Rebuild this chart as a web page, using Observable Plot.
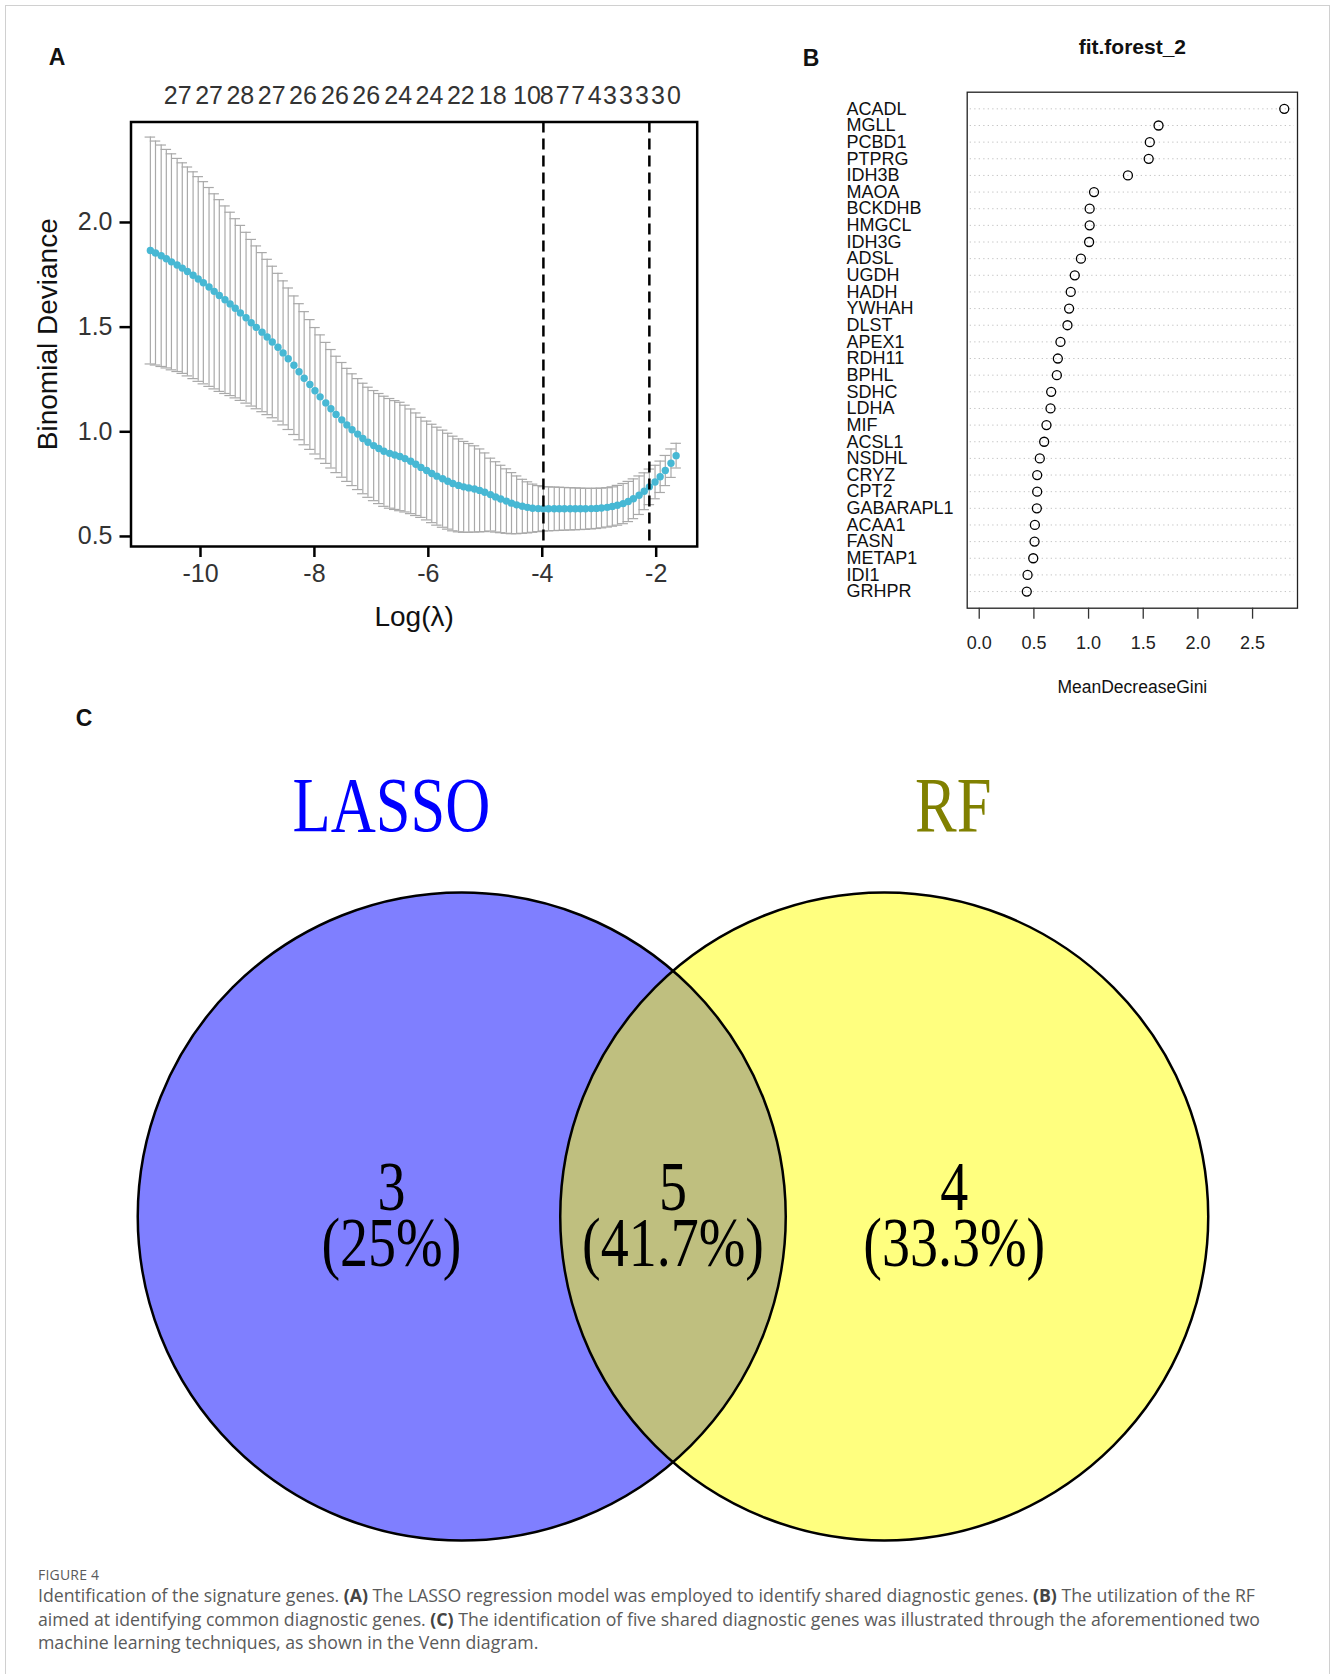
<!DOCTYPE html>
<html><head><meta charset="utf-8">
<script src="https://cdn.jsdelivr.net/npm/d3@7"></script>
<script src="https://cdn.jsdelivr.net/npm/@observablehq/plot@0.6"></script>
<style>
body{margin:0;background:#fff;}
#fig{position:relative;width:1335px;height:1674px;overflow:hidden;background:#fff;font-family:"Liberation Sans",Arial,sans-serif;}
#border{position:absolute;left:5px;top:5px;width:1323px;height:1720px;border:1px solid #d0d0d0;}
.panel{position:absolute;}
.plab{position:absolute;font-weight:bold;font-size:23px;color:#111;transform:translate(-50%,-50%);line-height:1;}
#caption{position:absolute;left:38px;top:1566px;font-family:"Open Sans",sans-serif;color:#5a5a5a;white-space:nowrap;}
#caption b{color:#444;}
</style></head><body>
<div id="fig">
  <div id="border"></div>
  <div id="pA" class="panel" style="left:0;top:0"></div>
  <div id="pB" class="panel" style="left:800px;top:0"></div>
  <div id="pC" class="panel" style="left:0;top:690px"></div>
  <div class="plab" style="left:57px;top:57px">A</div>
  <div class="plab" style="left:811px;top:58px">B</div>
  <div class="plab" style="left:84px;top:718px">C</div>
  <div id="caption">
    <div style="font-size:14px;line-height:18px;letter-spacing:0.2px">FIGURE 4</div>
    <div style="font-size:17.7px;line-height:23.5px">Identification of the signature genes. <b>(A)</b> The LASSO regression model was employed to identify shared diagnostic genes. <b>(B)</b> The utilization of the RF<br>aimed at identifying common diagnostic genes. <b>(C)</b> The identification of five shared diagnostic genes was illustrated through the aforementioned two<br>machine learning techniques, as shown in the Venn diagram.</div>
  </div>
</div>
<script>
// ---------- Panel A data (cv.glmnet) ----------
const logLambda = [
-10.88,-10.79,-10.69,-10.60,-10.51,-10.41,-10.32,-10.23,-10.13,-10.04,
-9.95,-9.85,-9.76,-9.67,-9.57,-9.48,-9.39,-9.30,-9.20,-9.11,
-9.02,-8.92,-8.83,-8.74,-8.64,-8.55,-8.46,-8.36,-8.27,-8.18,
-8.08,-7.99,-7.90,-7.80,-7.71,-7.62,-7.52,-7.43,-7.34,-7.24,
-7.15,-7.06,-6.96,-6.87,-6.78,-6.68,-6.59,-6.50,-6.41,-6.31,
-6.22,-6.13,-6.03,-5.94,-5.85,-5.75,-5.66,-5.57,-5.47,-5.38,
-5.29,-5.19,-5.10,-5.01,-4.91,-4.82,-4.73,-4.63,-4.54,-4.45,
-4.35,-4.26,-4.17,-4.07,-3.98,-3.89,-3.79,-3.70,-3.61,-3.51,
-3.42,-3.33,-3.24,-3.14,-3.05,-2.96,-2.86,-2.77,-2.68,-2.58,
-2.49,-2.40,-2.30,-2.21,-2.12,-2.02,-1.93,-1.84,-1.74,-1.65];
const cvm = [
1.866,1.854,1.841,1.827,1.812,1.797,1.782,1.766,1.748,1.730,
1.712,1.692,1.671,1.651,1.631,1.611,1.590,1.568,1.545,1.521,
1.499,1.476,1.453,1.429,1.404,1.377,1.349,1.318,1.287,1.256,
1.226,1.196,1.167,1.138,1.110,1.083,1.057,1.033,1.010,0.989,
0.968,0.950,0.934,0.920,0.907,0.897,0.889,0.882,0.872,0.859,
0.845,0.830,0.815,0.801,0.788,0.776,0.764,0.753,0.744,0.737,
0.732,0.727,0.720,0.711,0.700,0.689,0.679,0.669,0.659,0.651,
0.644,0.639,0.635,0.633,0.632,0.632,0.632,0.632,0.632,0.632,
0.632,0.632,0.632,0.633,0.634,0.636,0.639,0.643,0.649,0.657,
0.667,0.680,0.697,0.716,0.737,0.760,0.785,0.815,0.850,0.886];
const cvsd = [
0.542,0.535,0.529,0.522,0.516,0.509,0.503,0.499,0.494,0.489,
0.483,0.475,0.466,0.458,0.448,0.438,0.428,0.418,0.408,0.398,
0.389,0.380,0.371,0.362,0.353,0.344,0.338,0.331,0.325,0.318,
0.310,0.302,0.296,0.289,0.283,0.278,0.274,0.270,0.267,0.265,
0.264,0.263,0.263,0.263,0.263,0.262,0.260,0.259,0.255,0.250,
0.245,0.239,0.236,0.235,0.234,0.232,0.229,0.226,0.222,0.217,
0.212,0.206,0.198,0.188,0.174,0.168,0.161,0.154,0.146,0.138,
0.129,0.122,0.115,0.110,0.106,0.105,0.104,0.103,0.102,0.101,
0.100,0.099,0.098,0.097,0.096,0.095,0.094,0.094,0.095,0.096,
0.096,0.095,0.092,0.088,0.085,0.080,0.075,0.072,0.068,0.059];
const lambdaLines = [-3.98, -2.12];
const nzLabels = ["27","27","28","27","26","26","26","24","24","22","18","10","8","7","7","4","3","3","3","3","0"];
const nzAt = [-10.40,-9.85,-9.30,-8.75,-8.20,-7.64,-7.09,-6.53,-5.98,-5.43,-4.87,-4.27,-3.92,-3.64,-3.37,-3.08,-2.81,-2.53,-2.25,-1.97,-1.69];
const xTicksA = [-10,-8,-6,-4,-2];
const yTicksA = [0.5,1.0,1.5,2.0];

// ---------- Panel B data (randomForest varImpPlot) ----------
const genes = ["ACADL","MGLL","PCBD1","PTPRG","IDH3B","MAOA","BCKDHB","HMGCL","IDH3G","ADSL","UGDH","HADH","YWHAH","DLST","APEX1","RDH11","BPHL","SDHC","LDHA","MIF","ACSL1","NSDHL","CRYZ","CPT2","GABARAPL1","ACAA1","FASN","METAP1","IDI1","GRHPR"];
const gini = [2.79,1.64,1.56,1.55,1.36,1.05,1.01,1.01,1.005,0.93,0.874,0.837,0.822,0.807,0.743,0.719,0.71,0.658,0.652,0.615,0.594,0.554,0.53,0.53,0.527,0.509,0.506,0.494,0.442,0.435];
const xTicksB = [0,0.5,1,1.5,2,2.5];

// ---------- Panel C data (Venn) ----------
const vennSets = ["LASSO","RF"];
const vennCounts = ["3","5","4"];
const vennPercents = ["(25%)","(41.7%)","(33.3%)"];

// ---------- Panel A ----------
const lasso = logLambda.map((x,i)=>({x, m:cvm[i], lo:cvm[i]-cvsd[i], hi:cvm[i]+cvsd[i]}));
const capHalf = (d3.max(logLambda)-d3.min(logLambda))*0.01;
const sans = "'Liberation Sans', Arial, Helvetica, sans-serif";
const plotA = Plot.plot({
  width:720, height:660, marginLeft:130.5, marginRight:23.3, marginTop:121.5, marginBottom:114,
  x:{domain:[-11.22,-1.28]}, y:{domain:[0.452,2.48]},
  style:{fontFamily:sans, fontSize:"25px", color:"#333", background:"transparent", overflow:"visible"},
  marks:[
    Plot.ruleX(lasso,{x:"x", y1:"lo", y2:"hi", stroke:"#A9A9A9", strokeWidth:1.2}),
    Plot.ruleY(lasso,{y:"hi", x1:d=>d.x-capHalf, x2:d=>d.x+capHalf, stroke:"#A9A9A9", strokeWidth:1.2}),
    Plot.ruleY(lasso,{y:"lo", x1:d=>d.x-capHalf, x2:d=>d.x+capHalf, stroke:"#A9A9A9", strokeWidth:1.2}),
    Plot.dot(lasso,{x:"x", y:"m", r:3.7, fill:"#47B8D4", stroke:"none"}),
    Plot.ruleX(lambdaLines,{x:d=>d, stroke:"black", strokeWidth:2.5, strokeDasharray:"11,6"}),
    Plot.frame({stroke:"black", strokeWidth:2.5}),
    Plot.axisX({ticks:xTicksA, tickFormat:d=>String(d), tickSize:11, tickPadding:7, stroke:"black", strokeWidth:2.5, fill:"#333", fontSize:25, label:null}),
    Plot.axisY({ticks:yTicksA, tickFormat:d3.format(".1f"), tickSize:11, tickPadding:7.5, stroke:"black", strokeWidth:2.5, fill:"#333", fontSize:25, label:null}),
    Plot.text(nzLabels,{x:(d,i)=>nzAt[i], text:d=>d, frameAnchor:"top", lineAnchor:"middle", dy:-26.5, fontSize:25, fill:"#333"}),
    Plot.text(["Log(λ)"],{text:d=>d, frameAnchor:"bottom", lineAnchor:"middle", textAnchor:"middle", dy:71, fontSize:28, fill:"#111"}),
    Plot.text(["Binomial Deviance"],{text:d=>d, frameAnchor:"left", textAnchor:"middle", lineAnchor:"middle", dx:-82.5, rotate:-90, fontSize:28, fill:"#111"})
  ]
});
document.getElementById("pA").appendChild(plotA);

// ---------- Panel B ----------
const rf = genes.map((g,i)=>({g, v:gini[i]}));
const plotB = Plot.plot({
  width:535, height:720, marginLeft:166.7, marginRight:38, marginTop:91.7, marginBottom:112.3,
  x:{domain:[-0.11,2.911]}, y:{type:"point", domain:genes, padding:1, round:false, axis:null},
  style:{fontFamily:sans, fontSize:"18px", color:"#111", background:"transparent", overflow:"visible"},
  marks:[
    Plot.ruleY(rf,{y:"g", stroke:"#c4c4c4", strokeWidth:1, strokeDasharray:"1.3,3.2", insetLeft:3, insetRight:3}),
    Plot.dot(rf,{x:"v", y:"g", r:4.5, stroke:"black", strokeWidth:1.3, fill:"none"}),
    Plot.frame({stroke:"#222", strokeWidth:1.3}),
    Plot.axisX({ticks:xTicksB, tickFormat:d3.format(".1f"), tickSize:11, tickPadding:17, stroke:"#333", strokeWidth:1.3, fill:"#222", fontSize:18, label:null}),
    Plot.text(rf,{y:"g", text:"g", frameAnchor:"left", textAnchor:"start", lineAnchor:"middle", dx:-120.7, fontSize:18, fill:"#111"}),
    Plot.text(["fit.forest_2"],{text:d=>d, frameAnchor:"top", lineAnchor:"middle", textAnchor:"middle", dy:-44.7, fontSize:21, fontWeight:"bold", fill:"#111"}),
    Plot.text(["MeanDecreaseGini"],{text:d=>d, frameAnchor:"bottom", lineAnchor:"middle", textAnchor:"middle", dy:79, fontSize:17.5, fill:"#111"})
  ]
});
document.getElementById("pB").appendChild(plotB);

// ---------- Panel C (Venn) ----------
// layout in circle-radius units
const layout = {r:324, half:0.652, regionX:[-0.869,0,0.868], titleX:[-0.869,0.865], titleY:1.266, regionY:-0.012};
const circles = vennSets.map((s,i)=>({s, cx:(i===0?-1:1)*layout.half}));
const regions = vennCounts.map((c,i)=>({label:`${c}\n${vennPercents[i]}`, x:layout.regionX[i]}));
const plotC = Plot.plot({
  width:1335, height:880, margin:0,
  x:{domain:[-2.0756,2.0448], axis:null}, y:{domain:[-1.0926,1.6235], axis:null},
  style:{fontFamily:"'Liberation Serif','DejaVu Serif',serif", background:"transparent", overflow:"visible"},
  marks:[
    Plot.dot(circles.slice(0,1),{x:"cx", y:0, r:layout.r, fill:"#0000FF", fillOpacity:0.5, stroke:"none"}),
    Plot.dot(circles.slice(1,2),{x:"cx", y:0, r:layout.r, fill:"#FFFF00", fillOpacity:0.5, stroke:"none"}),
    Plot.dot(circles,{x:"cx", y:0, r:layout.r, fill:"none", stroke:"black", strokeWidth:2.5}),
    Plot.text(vennSets,{x:(d,i)=>layout.titleX[i], y:layout.titleY, text:d=>d, lineAnchor:"middle", fontSize:78, fill:(d,i)=>i===0?"#0000FF":"#808000"}),
    Plot.text(regions,{x:"x", y:layout.regionY, text:"label", lineAnchor:"middle", lineHeight:0.8, fontSize:70, fill:"#000"})
  ]
});
document.getElementById("pC").appendChild(plotC);
// narrow the serif glyphs like the original rendering
d3.select(plotC).selectAll("text").each(function(){
  const t = d3.select(this);
  const tr = t.attr("transform");
  if (tr) {
    t.attr("transform", tr + " scale(0.8,1)");
  } else {
    const x = +t.attr("x") || 0, y = +t.attr("y") || 0;
    t.attr("x", null).attr("y", null).attr("transform", `translate(${x},${y}) scale(0.8,1)`);
  }
});
</script>
</body></html>
